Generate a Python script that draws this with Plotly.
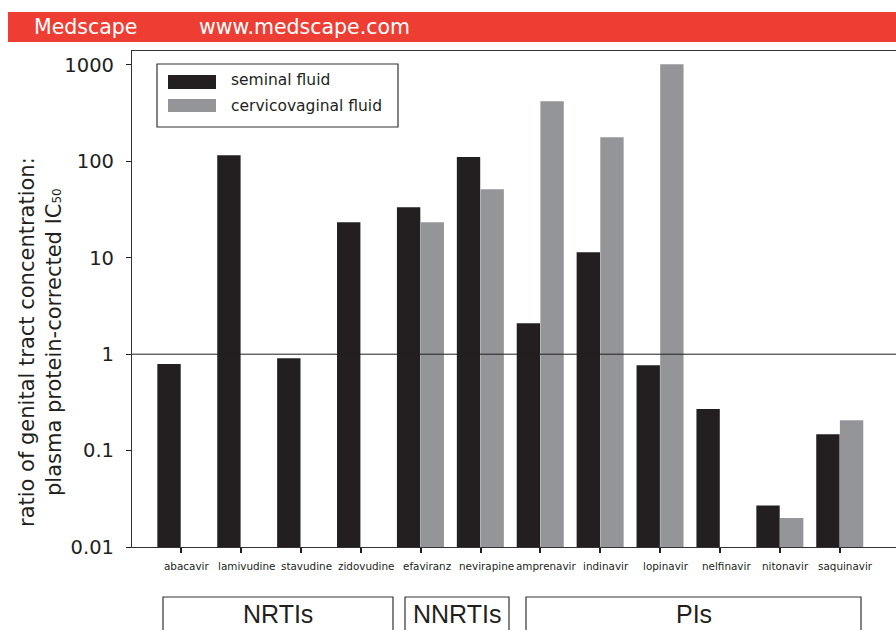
import plotly.graph_objects as go

drugs = ["abacavir", "lamivudine", "stavudine", "zidovudine", "efaviranz", "nevirapine",
         "amprenavir", "indinavir", "lopinavir", "nelfinavir", "nitonavir", "saquinavir"]
seminal = [0.79, 116, 0.91, 23.4, 33.5, 111, 2.1, 11.4, 0.77, 0.27, 0.027, 0.148]
cervicovaginal = [None, None, None, None, 23.4, 51.5, 421, 178, 1019, None, 0.02, 0.207]
groups = ["NRTIs", "NNRTIs", "PIs"]
y_ticks = [0.01, 0.1, 1, 10, 100, 1000]
y_tick_text = ["0.01", "0.1", "1", "10", "100", "1000"]

W, H = 896, 630
L, R, T, B = 132, 896, 51, 547

def px(x):
    return (x - L) / (R - L)

def py(y):
    return (B - y) / (B - T)

BLACK = "#231F20"
GRAY = "#939598"
FONT = "DejaVu Sans, Verdana, sans-serif"
NARROW = "Liberation Sans Narrow, Arial Narrow, Liberation Sans, sans-serif"

fig = go.Figure()
fig.add_trace(go.Bar(x=list(range(len(drugs))), y=seminal, name="seminal fluid",
                     marker=dict(color=BLACK, line=dict(width=0)), offset=-0.395, width=0.39))
fig.add_trace(go.Bar(x=list(range(len(drugs))), y=cervicovaginal, name="cervicovaginal fluid",
                     marker=dict(color=GRAY, line=dict(width=0)), offset=0.0, width=0.39))

shapes = []
annotations = []

# red banner
shapes.append(dict(type="rect", xref="paper", yref="paper", x0=px(8), x1=px(896), y0=py(42), y1=py(12),
                   fillcolor="#EE3E34", line=dict(width=0), layer="above"))
annotations.append(dict(text="Medscape", xref="paper", yref="paper", x=px(32), y=py(27),
                        xanchor="left", yanchor="middle", showarrow=False,
                        font=dict(family=FONT, size=20.5, color="white")))
annotations.append(dict(text="www.medscape.com", xref="paper", yref="paper", x=px(197), y=py(27),
                        xanchor="left", yanchor="middle", showarrow=False,
                        font=dict(family=FONT, size=20.5, color="white")))

# reference line at 1
shapes.append(dict(type="line", xref="paper", yref="y", x0=0, x1=1, y0=1, y1=1,
                   line=dict(color=BLACK, width=1)))

# legend
shapes.append(dict(type="rect", xref="paper", yref="paper", x0=px(157), x1=px(398), y0=py(127), y1=py(64),
                   fillcolor="white", line=dict(color="#333333", width=1.2)))
shapes.append(dict(type="rect", xref="paper", yref="paper", x0=px(168), x1=px(216), y0=py(89), y1=py(75),
                   fillcolor=BLACK, line=dict(width=0)))
shapes.append(dict(type="rect", xref="paper", yref="paper", x0=px(168), x1=px(216), y0=py(112), y1=py(99),
                   fillcolor=GRAY, line=dict(width=0)))
annotations.append(dict(text="seminal fluid", xref="paper", yref="paper", x=px(229), y=py(80),
                        xanchor="left", yanchor="middle", showarrow=False,
                        font=dict(family=FONT, size=15.5, color=BLACK)))
annotations.append(dict(text="cervicovaginal fluid", xref="paper", yref="paper", x=px(229), y=py(106),
                        xanchor="left", yanchor="middle", showarrow=False,
                        font=dict(family=FONT, size=15.5, color=BLACK)))

# y axis title
annotations.append(dict(text="ratio of genital tract concentration:<br>plasma protein-corrected IC<span style='font-size:12px'>50</span>",
                        xref="paper", yref="paper", x=px(40), y=py(342), textangle=-90,
                        xanchor="center", yanchor="middle", showarrow=False,
                        font=dict(family=FONT, size=21, color=BLACK)))

# category labels (slightly right of ticks, as in the original)
for i, d in enumerate(drugs):
    annotations.append(dict(text=d, xref="x", yref="paper", x=i + 0.1, y=py(566),
                            xanchor="center", yanchor="middle", showarrow=False,
                            font=dict(family=FONT, size=10.4, color=BLACK)))

# group boxes
group_boxes = [(163, 393), (405, 509), (526, 861)]
for g, (a, b) in zip(groups, group_boxes):
    shapes.append(dict(type="rect", xref="paper", yref="paper", x0=px(a), x1=px(b), y0=py(640), y1=py(597),
                       line=dict(color="#333333", width=1.2), fillcolor="rgba(0,0,0,0)"))
    annotations.append(dict(text=g, xref="paper", yref="paper", x=px((a + b) / 2), y=py(614),
                            xanchor="center", yanchor="middle", showarrow=False,
                            font=dict(family=NARROW, size=25, color=BLACK)))

fig.update_layout(
    width=W, height=H,
    margin=dict(l=L, r=W - R, t=T, b=H - B, pad=0),
    plot_bgcolor="white", paper_bgcolor="white",
    showlegend=False, barmode="overlay",
    shapes=shapes, annotations=annotations,
    xaxis=dict(range=[(132 - 181) / 59.9, (896 - 181) / 59.9], tickmode="array",
               tickvals=list(range(len(drugs))), showticklabels=False,
               ticks="outside", ticklen=5, tickcolor=BLACK, tickwidth=1.5,
               showline=True, linecolor="#333333", linewidth=1.2, mirror=True,
               showgrid=False, zeroline=False),
    yaxis=dict(type="log", range=[-2, 3.145], tickmode="array", tickvals=y_ticks, ticktext=y_tick_text,
               ticks="outside", ticklen=5, tickcolor=BLACK, tickwidth=1,
               ticklabelstandoff=8,
               showline=True, linecolor="#333333", linewidth=1.2,
               showgrid=False, zeroline=False,
               tickfont=dict(family=FONT, size=19.5, color=BLACK)),
)

fig.write_html("out.html", config={"displayModeBar": False},
               post_script="document.body.style.margin='0';document.body.style.padding='0';")
